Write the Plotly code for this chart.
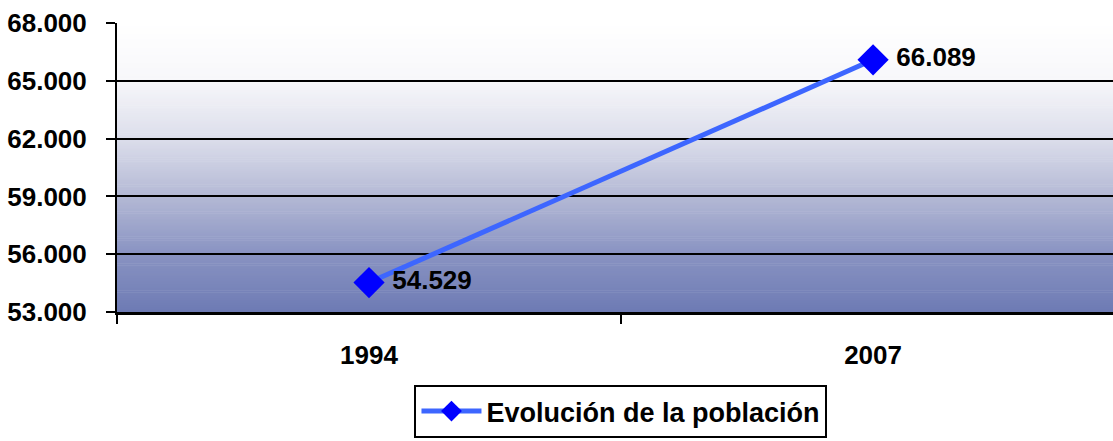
import plotly.graph_objects as go

years = ["1994", "2007"]
population = [54529, 66089]
series_name = "Evolución de la población"

fig = go.Figure()

# vertical gradient background for the plot area (colour stops)
stops = [(0.0, (255, 255, 255)), (0.2, (247, 247, 250)), (0.4, (220, 222, 235)),
         (0.6, (180, 185, 213)), (0.8, (137, 147, 194)), (1.0, (110, 123, 180))]


def grad(t):
    for (t0, c0), (t1, c1) in zip(stops[:-1], stops[1:]):
        if t <= t1:
            f = (t - t0) / (t1 - t0)
            return tuple(round(c0[k] + (c1[k] - c0[k]) * f) for k in range(3))
    return stops[-1][1]


n = 150
for i in range(n):
    c = grad((i + 0.5) / n)
    fig.add_shape(type="rect", xref="paper", yref="paper",
                  x0=0, x1=1, y0=1 - (i + 1) / n, y1=1 - i / n + 0.002,
                  fillcolor="rgb(%d,%d,%d)" % c, line_width=0, layer="below")

fig.add_trace(go.Scatter(
    x=years, y=population, name=series_name,
    mode="lines+markers+text",
    line=dict(color="#3d66ff", width=5),
    marker=dict(symbol="diamond", size=24, color="#0000ff"),
    text=population, texttemplate=" %{y:,.0f}", textposition="middle right",
    textfont=dict(family="Liberation Sans, Arial", size=26, color="black", weight="bold"),
))

fig.update_layout(
    width=1113, height=441,
    margin=dict(l=117, r=0, t=23, b=129),
    paper_bgcolor="white", plot_bgcolor="white",
    separators=",.",
    font=dict(family="Liberation Sans, Arial", color="black"),
    showlegend=True,
    legend=dict(orientation="h", x=0.506, xanchor="center", y=-0.436, yanchor="bottom",
                bordercolor="black", borderwidth=2, bgcolor="white",
                font=dict(size=27, weight="bold"), itemwidth=60),
    xaxis=dict(type="category", range=[-0.5, 1.476], tickson="boundaries",
               ticks="outside", ticklen=9, tickwidth=2, tickcolor="black",
               showline=True, linecolor="black", linewidth=3, showgrid=False,
               tickfont=dict(size=26, weight="bold"), ticklabelstandoff=18,
               automargin=False),
    yaxis=dict(range=[53000, 68000], tick0=53000, dtick=3000, tickformat=",.0f",
               ticks="outside", ticklen=9, tickwidth=2, tickcolor="black",
               showline=True, linecolor="black", linewidth=2,
               showgrid=True, gridcolor="black", gridwidth=1.5,
               tickfont=dict(size=26, weight="bold"), zeroline=False,
               ticklabelstandoff=14, automargin=False),
)

fig.write_html("out.html", config={"displayModeBar": False},
               post_script="document.body.style.margin='0';")
